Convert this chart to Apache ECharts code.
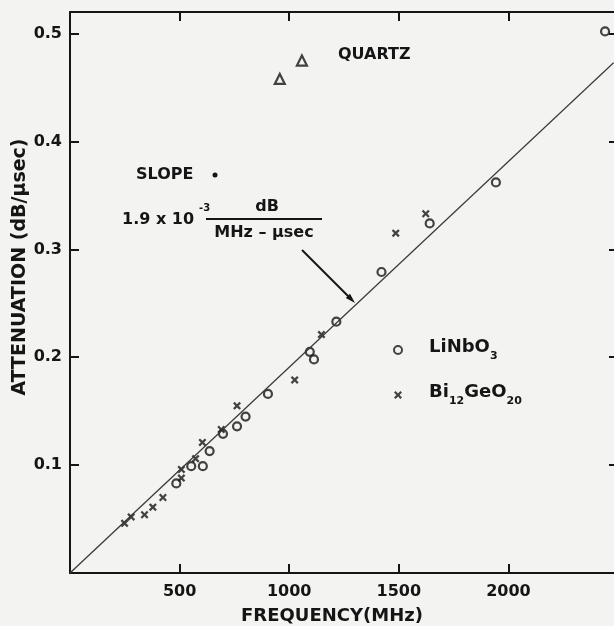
<!DOCTYPE html>
<html>
<head>
<meta charset="utf-8">
<script src="https://cdn.jsdelivr.net/npm/echarts@6/dist/echarts.min.js"></script>
<style>
  html, body { margin: 0; padding: 0; background: #f3f3f1; }
  #main { width: 614px; height: 626px; }
</style>
</head>
<body>
<div id="main"></div>
<script>
var myChart = echarts.init(document.getElementById('main'));

// measured points [MHz, dB/usec]
var linbo3 = [[485, 0.083], [553, 0.099], [606, 0.099], [637, 0.113], [698, 0.129], [762, 0.136],
    [801, 0.145], [903, 0.166], [1094, 0.205], [1113, 0.198], [1215, 0.233], [1421, 0.279],
    [1641, 0.324], [1943, 0.362], [2441, 0.502]];
var bgo = [[249, 0.046], [279, 0.052], [340, 0.054], [378, 0.061], [424, 0.070], [508, 0.088],
    [508, 0.096], [573, 0.106], [604, 0.121], [690, 0.133], [762, 0.155], [1025, 0.179],
    [1147, 0.221], [1486, 0.315], [1623, 0.333]];
var quartz = [[957, 0.458], [1058, 0.475]];
var fitLine = [[0, 0], [2480, 0.473]];

var INK = '#151515';
var BG = '#f3f3f1';
var FONT = '"DejaVu Sans", sans-serif';
var XCROSS = 'path://M0,2L2,0L5,3L8,0L10,2L7,5L10,8L8,10L5,7L2,10L0,8L3,5Z';

function txt(text, x, y, size, align, extra) {
    var el = {
        type: 'text', x: x, y: y, silent: true,
        style: {
            text: text, fill: INK, font: 'bold ' + size + 'px ' + FONT,
            align: align || 'left', verticalAlign: 'middle',
            textAlign: align || 'left', textVerticalAlign: 'middle'
        }
    };
    if (extra) { for (var k in extra) el[k] = extra[k]; }
    return el;
}

// frame axis: ticks pointing into the plot, line kept on its own side
function frameAxis(extra) {
    var a = {
        type: 'value',
        axisLine: { onZero: false, lineStyle: { color: INK, width: 2 } },
        axisTick: { inside: true, length: 9, lineStyle: { color: INK, width: 2 } },
        splitLine: { show: false },
        axisLabel: { show: false }
    };
    for (var k in extra) a[k] = extra[k];
    return a;
}

var labelStyle = { color: INK, fontSize: 16, fontWeight: 'bold', fontFamily: FONT };

var option = {
    backgroundColor: BG,
    animation: false,
    grid: { left: 70, width: 548, top: 12, bottom: 53, outerBoundsMode: 'none' },
    xAxis: [
        frameAxis({
            position: 'bottom', min: 0, max: 2500, interval: 500,
            axisLabel: Object.assign({ margin: 11, formatter: function (v) {
                return (v === 0 || v === 2500) ? '' : v;
            } }, labelStyle)
        }),
        frameAxis({ position: 'top', min: 0, max: 2500, interval: 500 })
    ],
    yAxis: [
        frameAxis({
            position: 'left', min: 0, max: 0.52, interval: 0.1,
            axisLabel: Object.assign({ margin: 8, formatter: function (v) {
                if (v === 0 || Math.abs(v * 10 - Math.round(v * 10)) > 1e-6) return '';
                return v.toFixed(1);
            } }, labelStyle)
        }),
        frameAxis({ position: 'right', min: 0, max: 0.52, interval: 0.1 })
    ],
    legend: {
        orient: 'vertical', left: 393, top: 334, padding: 0,
        itemWidth: 8, itemHeight: 8, itemGap: 17,
        data: ['LiNbO3', 'Bi12GeO20'],
        formatter: function (name) {
            return name === 'LiNbO3' ? '{g|}{m|LiNbO}{s|3}' : '{g|}{m|Bi}{s|12}{m|GeO}{s|20}';
        },
        textStyle: {
            color: INK,
            rich: {
                g: { width: 22 },
                m: { fontSize: 18, fontWeight: 'bold', fontFamily: FONT, color: INK, verticalAlign: 'top', lineHeight: 24 },
                s: { fontSize: 11, fontWeight: 'bold', fontFamily: FONT, color: INK, verticalAlign: 'bottom', lineHeight: 12, padding: [17, 0, 0, 0] }
            }
        }
    },
    series: [{
        name: 'fit', type: 'line', data: fitLine, symbol: 'none', silent: true,
        lineStyle: { color: '#3a3a3a', width: 1.3 }
    }, {
        name: 'LiNbO3', type: 'scatter', data: linbo3, symbol: 'circle', symbolSize: 8,
        itemStyle: { color: BG, borderColor: INK, borderWidth: 2.2 }
    }, {
        name: 'Bi12GeO20', type: 'scatter', data: bgo, symbol: XCROSS, symbolSize: 8,
        itemStyle: { color: INK }
    }, {
        name: 'Quartz', type: 'scatter', data: quartz, symbol: 'triangle', symbolSize: 10,
        itemStyle: { color: BG, borderColor: INK, borderWidth: 2.2 }
    }],
    graphic: [
        txt('FREQUENCY(MHz)', 332, 616, 18, 'center'),
        txt('ATTENUATION (dB/\u03bcsec)', 20, 267, 19, 'center', { rotation: Math.PI / 2 }),
        txt('QUARTZ', 338, 55, 16, 'left'),
        txt('SLOPE', 136, 175, 16, 'left'),
        { type: 'circle', silent: true, shape: { cx: 215, cy: 175, r: 2.5 }, style: { fill: INK } },
        txt('1.9 x 10', 122, 220, 16, 'left'),
        txt('-3', 199, 208, 10, 'left'),
        txt('dB', 267, 207, 16, 'center'),
        { type: 'line', silent: true, shape: { x1: 206, y1: 219, x2: 322, y2: 219 }, style: { stroke: INK, lineWidth: 2 } },
        txt('MHz \u2013 \u03bcsec', 264, 233, 16, 'center'),
        { type: 'line', silent: true, shape: { x1: 302, y1: 250, x2: 349, y2: 297 }, style: { stroke: INK, lineWidth: 2 } },
        { type: 'polygon', silent: true, shape: { points: [[355, 303], [350, 293.8], [345.8, 298]] }, style: { fill: INK } }
    ]
};

myChart.setOption(option);
</script>
</body>
</html>
